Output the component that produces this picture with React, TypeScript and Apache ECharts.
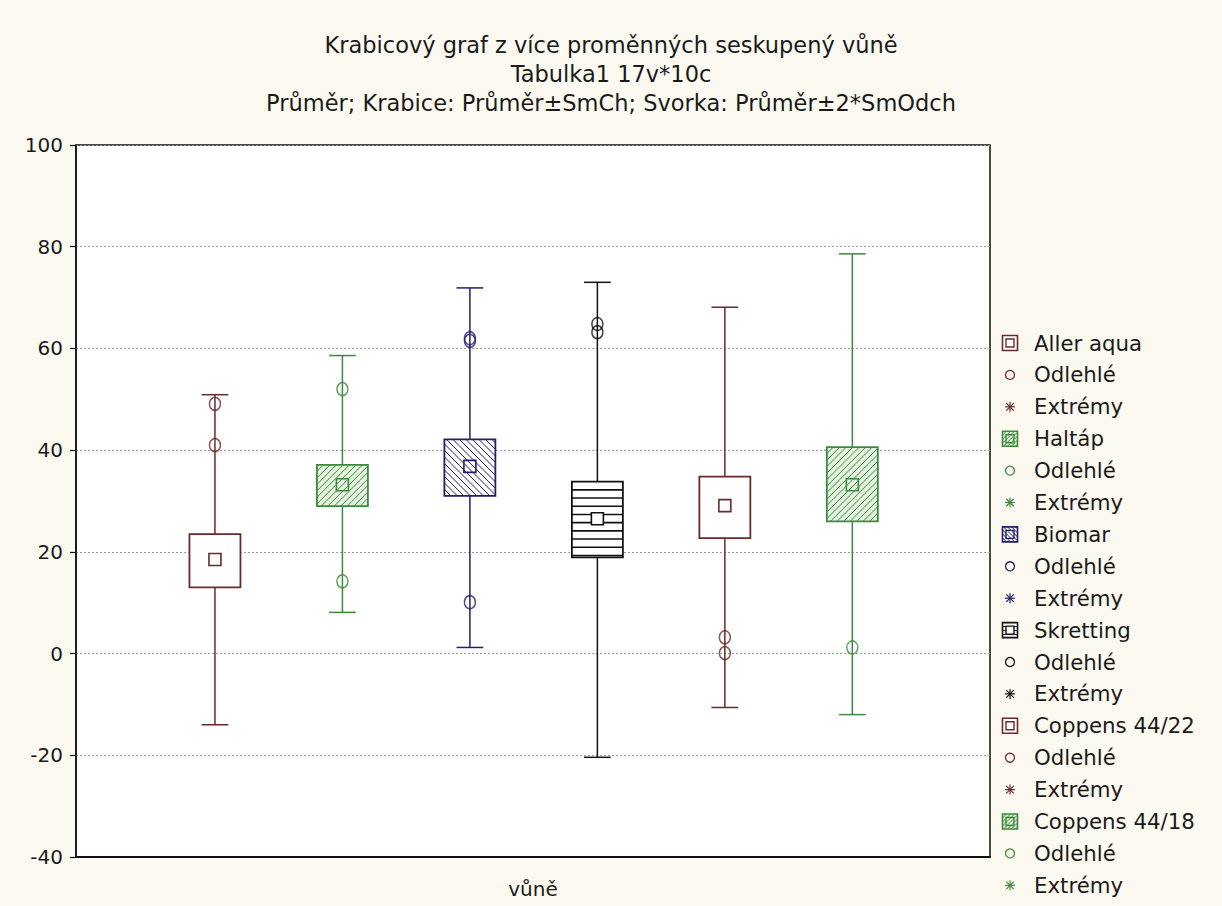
import React, { useEffect, useRef } from "react";
import * as echarts from "echarts";

// ---- data ----
const titleLines = [
  "Krabicový graf z více proměnných seskupený vůně",
  "Tabulka1 17v*10c",
  "Průměr; Krabice: Průměr±SmCh; Svorka: Průměr±2*SmOdch",
];
const xAxisName = "vůně";
const groups = ["Aller aqua", "Haltáp", "Biomar", "Skretting", "Coppens 44/22", "Coppens 44/18"];
const positions = [1, 2, 3, 4, 5, 6];
const means = [18.5, 33.2, 36.8, 26.5, 29.1, 33.2];
const boxLow = [13.0, 29.0, 31.0, 18.9, 22.7, 26.0];
const boxHigh = [23.5, 37.1, 42.1, 33.8, 34.8, 40.6];
const whiskerLow = [-14.0, 8.1, 1.2, -20.4, -10.6, -12.0];
const whiskerHigh = [50.9, 58.6, 71.9, 73.0, 68.1, 78.6];
const outliers = [
  [49.1, 41.0],
  [52.0, 14.2],
  [61.5, 62.0, 10.1],
  [64.8, 63.2],
  [3.2, 0.1],
  [1.2],
];
const outlierLabel = "Odlehlé";
const extremeLabel = "Extrémy";
const yTicks = { min: -40, max: 100, interval: 20 };

// ---- styles ----
const colors = ["#6b2a2a", "#3d8a3d", "#20206a", "#111111", "#6b2a2a", "#3d8a3d"];
const fills = ["#ffffff", "#e4f2df", "#ffffff", "#ffffff", "#ffffff", "#e4f2df"];
const hatches = ["none", "fwd", "back", "horiz", "none", "fwd"];
const FONT = '"DejaVu Sans", "Liberation Sans", Arial, sans-serif';

function hatchLines(x0: number, y0: number, w: number, h: number, kind: string, step: number) {
  const segs: number[][] = [];
  if (kind === "fwd") {
    for (let c = x0 + y0 + step; c < x0 + w + y0 + h; c += step) {
      const xa = Math.max(x0, c - (y0 + h));
      const xb = Math.min(x0 + w, c - y0);
      if (xb > xa) segs.push([xa, c - xa, xb, c - xb]);
    }
  } else if (kind === "back") {
    for (let c = x0 - (y0 + h) + step; c < x0 + w - y0; c += step) {
      const xa = Math.max(x0, c + y0);
      const xb = Math.min(x0 + w, c + y0 + h);
      if (xb > xa) segs.push([xa, xa - c, xb, xb - c]);
    }
  } else if (kind === "horiz") {
    for (let y = y0 + step; y < y0 + h; y += step) segs.push([x0, y, x0 + w, y]);
  }
  return segs;
}

function renderBox(params: any, api: any) {
  const i = params.dataIndex;
  const x = api.value(0);
  const color = colors[i];
  const pLow = api.coord([x, api.value(1)]);
  const pHigh = api.coord([x, api.value(2)]);
  const pBL = api.coord([x, api.value(3)]);
  const pBH = api.coord([x, api.value(4)]);
  const pM = api.coord([x, api.value(5)]);
  const bw = api.size([0.4, 0])[0];
  const cw = api.size([0.21, 0])[0];
  const cx = pLow[0];
  const children: any[] = [];
  const ls = { stroke: color, lineWidth: 1.5 };
  children.push({ type: "line", shape: { x1: cx, y1: pLow[1], x2: cx, y2: pHigh[1] }, style: ls });
  children.push({ type: "line", shape: { x1: cx - cw / 2, y1: pLow[1], x2: cx + cw / 2, y2: pLow[1] }, style: ls });
  children.push({ type: "line", shape: { x1: cx - cw / 2, y1: pHigh[1], x2: cx + cw / 2, y2: pHigh[1] }, style: ls });
  const x0 = cx - bw / 2;
  const y0 = pBH[1];
  const h = pBL[1] - pBH[1];
  children.push({ type: "rect", shape: { x: x0, y: y0, width: bw, height: h }, style: { fill: fills[i], stroke: "none" } });
  const step = hatches[i] === "horiz" ? 8.2 : 6.5;
  hatchLines(x0, y0, bw, h, hatches[i], step).forEach((s) => {
    children.push({
      type: "line",
      shape: { x1: s[0], y1: s[1], x2: s[2], y2: s[3] },
      style: { stroke: color, lineWidth: hatches[i] === "horiz" ? 1.6 : 1 },
    });
  });
  children.push({ type: "rect", shape: { x: x0, y: y0, width: bw, height: h }, style: { fill: "none", stroke: color, lineWidth: 1.8 } });
  const ms = 12;
  children.push({
    type: "rect",
    shape: { x: cx - ms / 2, y: pM[1] - ms / 2, width: ms, height: ms },
    style: { fill: hatches[i] === "none" || hatches[i] === "horiz" ? "#ffffff" : "none", stroke: color, lineWidth: 1.6 },
  });
  return { type: "group", children };
}

function legendIcon(i: number, cx: number, cy: number) {
  const color = colors[i];
  const s = 15;
  const x0 = cx - s / 2;
  const y0 = cy - s / 2;
  const ch: any[] = [
    { type: "rect", shape: { x: x0, y: y0, width: s, height: s }, style: { fill: fills[i], stroke: "none" } },
  ];
  hatchLines(x0, y0, s, s, hatches[i], 4).forEach((g) =>
    ch.push({ type: "line", shape: { x1: g[0], y1: g[1], x2: g[2], y2: g[3] }, style: { stroke: color, lineWidth: 1 } })
  );
  ch.push({ type: "rect", shape: { x: x0, y: y0, width: s, height: s }, style: { fill: "none", stroke: color, lineWidth: 1.6 } });
  ch.push({ type: "rect", shape: { x: cx - 4, y: cy - 4, width: 8, height: 8 }, style: { fill: hatches[i] === "none" || hatches[i] === "horiz" ? "#fff" : "none", stroke: color, lineWidth: 1.4 } });
  return { type: "group", children: ch };
}

function asterisk(color: string, cx: number, cy: number) {
  const r = 5;
  const d = r * 0.75;
  const st = { stroke: color, lineWidth: 1.2 };
  return {
    type: "group",
    children: [
      { type: "line", shape: { x1: cx, y1: cy - r, x2: cx, y2: cy + r }, style: st },
      { type: "line", shape: { x1: cx - r, y1: cy, x2: cx + r, y2: cy }, style: st },
      { type: "line", shape: { x1: cx - d, y1: cy - d, x2: cx + d, y2: cy + d }, style: st },
      { type: "line", shape: { x1: cx - d, y1: cy + d, x2: cx + d, y2: cy - d }, style: st },
    ],
  };
}

export default function App() {
  const ref = useRef<HTMLDivElement>(null);
  useEffect(() => {
    if (!ref.current) return;
    const chart = echarts.init(ref.current, undefined, { renderer: "svg" });

    const legendEls: any[] = [];
    const lx = 1010;
    const tx = 1034;
    const ly0 = 343;
    const lstep = 31.9;
    groups.forEach((g, i) => {
      const rows = [g, outlierLabel, extremeLabel];
      rows.forEach((label, k) => {
        const cy = ly0 + (i * 3 + k) * lstep;
        if (k === 0) legendEls.push(legendIcon(i, lx, cy));
        else if (k === 1) legendEls.push({ type: "circle", shape: { cx: lx, cy, r: 4.5 }, style: { fill: "none", stroke: colors[i], lineWidth: 1.3 } });
        else legendEls.push(asterisk(colors[i], lx, cy));
        legendEls.push({
          type: "text",
          style: { text: label, x: tx, y: cy, fill: "#1a1a1a", font: `21.3px ${FONT}`, verticalAlign: "middle", align: "left" },
        });
      });
    });

    const series: any[] = [
      {
        type: "custom",
        name: "boxes",
        renderItem: renderBox,
        encode: { x: 0, y: [1, 2, 3, 4, 5] },
        data: positions.map((p, i) => [p, whiskerLow[i], whiskerHigh[i], boxLow[i], boxHigh[i], means[i]]),
        z: 2,
      },
    ];
    groups.forEach((g, i) => {
      series.push({
        type: "scatter",
        name: g + " " + outlierLabel,
        symbol: "circle",
        symbolSize: [11, 13],
        itemStyle: { color: "transparent", borderColor: colors[i], borderWidth: 1.5 },
        data: outliers[i].map((v) => [positions[i], v]),
        z: 3,
      });
    });

    chart.setOption({
      animation: false,
      backgroundColor: "#fcfaf0",
      title: {
        text: titleLines.join("\n"),
        left: "center",
        top: 25,
        textStyle: { fontFamily: FONT, fontSize: 22.5, fontWeight: "normal", color: "#1a1a1a", lineHeight: 29 },
      },
      grid: {
        left: 76,
        right: 232,
        top: 145,
        bottom: 49,
        outerBoundsMode: "none",
        containLabel: false,
        show: true,
        backgroundColor: "#ffffff",
        borderColor: "#111",
        borderWidth: 1.5,
      },
      xAxis: {
        type: "value",
        min: -0.09,
        max: 7.08,
        name: xAxisName,
        nameLocation: "middle",
        nameGap: 22,
        nameTextStyle: { fontFamily: FONT, fontSize: 20, color: "#1a1a1a" },
        axisLine: { show: true, onZero: false, lineStyle: { color: "#111", width: 2 } },
        axisTick: { show: false },
        axisLabel: { show: false },
        splitLine: { show: false },
      },
      yAxis: {
        type: "value",
        min: yTicks.min,
        max: yTicks.max,
        interval: yTicks.interval,
        axisLine: { show: true, onZero: false, lineStyle: { color: "#111", width: 1.5 } },
        axisTick: { show: true, inside: false, length: 6, lineStyle: { color: "#111", width: 1.2 } },
        axisLabel: { fontFamily: FONT, fontSize: 20, color: "#1a1a1a", margin: 13 },
        splitLine: { show: true, lineStyle: { color: "#9a9a9a", type: [2, 2], width: 1 } },
      },
      series,
      graphic: legendEls,
    });
    return () => chart.dispose();
  }, []);
  return <div ref={ref} style={{ position: "fixed", left: 0, top: 0, width: 1222, height: 906 }} />;
}
